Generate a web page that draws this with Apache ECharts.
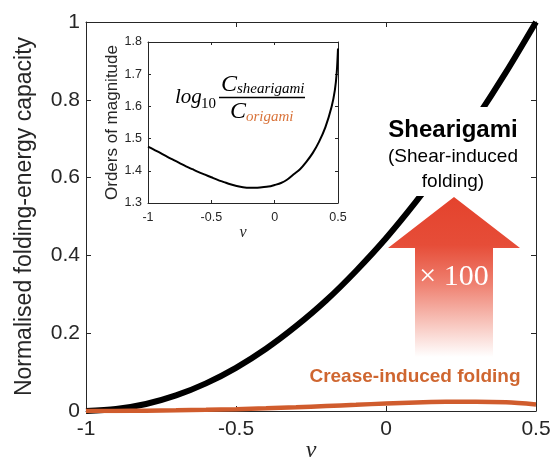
<!DOCTYPE html>
<html>
<head>
<meta charset="utf-8">
<script src="https://cdn.jsdelivr.net/npm/echarts@6/dist/echarts.min.js"></script>
<style>
  html, body { margin: 0; padding: 0; background: #fff; }
  #chart { width: 552px; height: 461px; }
</style>
</head>
<body>
<div id="chart"></div>
<script>
// poisson's ratio samples
const nu = [-1, -0.9, -0.8, -0.7, -0.6, -0.5, -0.4, -0.3, -0.2, -0.1, 0, 0.1, 0.2, 0.3, 0.4, 0.5]
// normalised folding-energy capacity
const shearigami = [0, 0.005, 0.018, 0.04, 0.071, 0.111, 0.16, 0.218, 0.284, 0.36, 0.444, 0.538, 0.64, 0.751, 0.871, 1.0]
const creaseFolding = [0, 0.0002, 0.0008, 0.0017, 0.003, 0.0046, 0.0069, 0.0097, 0.0128, 0.016, 0.0193, 0.022, 0.0237, 0.024, 0.0222, 0.0168]
// inset: log10 ratio
const insetNu = [-1, -0.95, -0.9, -0.85, -0.8, -0.75, -0.7, -0.65, -0.6, -0.55, -0.5, -0.45, -0.4, -0.35, -0.3, -0.25,
  -0.2, -0.15, -0.1, -0.05, 0, 0.05, 0.1, 0.15, 0.2, 0.25, 0.3, 0.35, 0.4, 0.45, 0.475, 0.49, 0.5]
const magnitude = [1.475, 1.465, 1.455, 1.444, 1.434, 1.424, 1.414, 1.405, 1.396, 1.388, 1.38, 1.372, 1.365, 1.358, 1.353, 1.349,
  1.347, 1.347, 1.349, 1.351, 1.356, 1.362, 1.373, 1.389, 1.405, 1.428, 1.455, 1.49, 1.535, 1.6, 1.65, 1.705, 1.78]

const mainXTicks = ['-1', '-0.5', '0', '0.5']
const mainYTicks = ['0', '0.2', '0.4', '0.6', '0.8', '1']
const insetXTicks = ['-1', '-0.5', '0', '0.5']
const insetYTicks = ['1.3', '1.4', '1.5', '1.6', '1.7', '1.8']

const pairs = (xs, ys) => xs.map((x, i) => [x, ys[i]])
const pick = (ticks, min, step) => v => ticks[Math.round((v - min) / step)] || ''

const axisColor = '#262626'
const sans = 'Liberation Sans'
const serif = 'Liberation Serif'

function boxAxis (type, gridIndex, pos, min, max, interval, ticks, fontSize, tickLen, extra) {
  return Object.assign({
    type: 'value',
    gridIndex: gridIndex,
    position: pos,
    min: min,
    max: max,
    interval: interval,
    axisLine: {show: true, onZero: false, lineStyle: {color: axisColor, width: 1}},
    axisTick: {show: true, inside: true, length: tickLen, lineStyle: {color: axisColor}},
    splitLine: {show: false},
    axisLabel: ticks
      ? {show: true, color: axisColor, fontFamily: sans, fontSize: fontSize, margin: type === 'x' ? 8 : 6,
        formatter: pick(ticks, min, interval)}
      : {show: false},
  }, extra || {})
}

const chart = echarts.init(document.getElementById('chart'))

const option = {
  animation: false,
  backgroundColor: '#fff',
  grid: [
    {left: 86, right: 16, top: 22, bottom: 50, outerBoundsMode: 'none', containLabel: false},
    {left: 148, right: 214, top: 42, bottom: 258, outerBoundsMode: 'none', containLabel: false},
  ],
  xAxis: [
    boxAxis('x', 0, 'bottom', -1, 0.5, 0.5, mainXTicks, 21, 5, {
      name: 'ν', nameLocation: 'middle', nameGap: 28, nameMoveOverlap: false,
      nameTextStyle: {fontFamily: serif, fontStyle: 'italic', fontSize: 24, color: axisColor},
    }),
    boxAxis('x', 0, 'top', -1, 0.5, 0.5, null, 21, 5),
    boxAxis('x', 1, 'bottom', -1, 0.5, 0.5, insetXTicks, 12.5, 3, {
      name: 'ν', nameLocation: 'middle', nameGap: 16,
      nameTextStyle: {fontFamily: serif, fontStyle: 'italic', fontSize: 16, color: axisColor},
    }),
    boxAxis('x', 1, 'top', -1, 0.5, 0.5, null, 12.5, 3),
  ],
  yAxis: [
    boxAxis('y', 0, 'left', 0, 1, 0.2, mainYTicks, 21, 5, {
      name: 'Normalised folding-energy capacity', nameLocation: 'middle', nameGap: 50,
      nameTextStyle: {fontFamily: sans, fontSize: 23, color: axisColor},
    }),
    boxAxis('y', 0, 'right', 0, 1, 0.2, null, 21, 5),
    boxAxis('y', 1, 'left', 1.3, 1.8, 0.1, insetYTicks, 12.5, 3, {
      name: 'Orders of magnitude', nameLocation: 'middle', nameGap: 24,
      nameTextStyle: {fontFamily: sans, fontSize: 17, color: axisColor},
    }),
    boxAxis('y', 1, 'right', 1.3, 1.8, 0.1, null, 12.5, 3),
  ],
  series: [
    {
      name: 'Shearigami',
      type: 'line',
      xAxisIndex: 0,
      yAxisIndex: 0,
      data: pairs(nu, shearigami),
      smooth: 0.3,
      showSymbol: false,
      lineStyle: {color: '#000', width: 6},
      z: 2,
    },
    {
      name: 'Crease-induced folding',
      type: 'line',
      xAxisIndex: 0,
      yAxisIndex: 0,
      data: pairs(nu, creaseFolding),
      smooth: 0.3,
      showSymbol: false,
      lineStyle: {color: '#d05c2d', width: 4.5},
      z: 3,
    },
    {
      name: 'ratio',
      type: 'line',
      xAxisIndex: 2,
      yAxisIndex: 2,
      data: pairs(insetNu, magnitude),
      smooth: 0.3,
      showSymbol: false,
      lineStyle: {color: '#000', width: 2},
      z: 2,
    },
  ],
  graphic: [
    // gap in the thick curve behind the label
    {type: 'rect', z: 50, shape: {x: 385, y: 107, width: 138, height: 89}, style: {fill: '#fff'}},
    {type: 'text', z: 60, x: 453, y: 130,
      style: {text: 'Shearigami', font: 'bold 24px "Liberation Sans"', fill: '#000', align: 'center', verticalAlign: 'middle'}},
    {type: 'text', z: 60, x: 453, y: 157,
      style: {text: '(Shear-induced', font: '19px "Liberation Sans"', fill: '#000', align: 'center', verticalAlign: 'middle'}},
    {type: 'text', z: 60, x: 453, y: 182,
      style: {text: 'folding)', font: '19px "Liberation Sans"', fill: '#000', align: 'center', verticalAlign: 'middle'}},
    {
      type: 'polygon', z: 60,
      shape: {points: [[454, 197], [388, 248], [415, 248], [415, 357], [493, 357], [493, 248], [520, 248]]},
      style: {
        fill: {
          type: 'linear', x: 0, y: 0, x2: 0, y2: 1,
          colorStops: [
            {offset: 0, color: '#e4432d'},
            {offset: 0.3, color: '#e64d38'},
            {offset: 0.55, color: '#ef8272'},
            {offset: 0.8, color: '#f8c8c0'},
            {offset: 1, color: '#ffffff'},
          ],
        },
      },
    },
    {type: 'text', z: 70, x: 454, y: 277,
      style: {text: '× 100', font: '30px "Liberation Serif"', fill: '#fff', align: 'center', verticalAlign: 'middle'}},
    {type: 'text', z: 60, x: 415, y: 377,
      style: {text: 'Crease-induced folding', font: 'bold 19px "Liberation Sans"', fill: '#cf6630', align: 'center', verticalAlign: 'middle'}},
    // inset formula
    {type: 'text', z: 60, x: 175, y: 97,
      style: {text: 'log', font: 'italic 21px "Liberation Serif"', fill: '#000', align: 'left', verticalAlign: 'middle'}},
    {type: 'text', z: 60, x: 201, y: 104,
      style: {text: '10', font: '15px "Liberation Serif"', fill: '#000', align: 'left', verticalAlign: 'middle'}},
    {type: 'line', z: 60, shape: {x1: 219, y1: 97.5, x2: 305, y2: 97.5}, style: {stroke: '#000', lineWidth: 1.3}},
    {type: 'text', z: 60, x: 221, y: 85,
      style: {text: 'C', font: 'italic 24px "Liberation Serif"', fill: '#000', align: 'left', verticalAlign: 'middle'}},
    {type: 'text', z: 60, x: 237, y: 89,
      style: {text: 'shearigami', font: 'italic 15px "Liberation Serif"', fill: '#000', align: 'left', verticalAlign: 'middle'}},
    {type: 'text', z: 60, x: 230, y: 112,
      style: {text: 'C', font: 'italic 24px "Liberation Serif"', fill: '#000', align: 'left', verticalAlign: 'middle'}},
    {type: 'text', z: 60, x: 246, y: 117,
      style: {text: 'origami', font: 'italic 15px "Liberation Serif"', fill: '#d9733a', align: 'left', verticalAlign: 'middle'}},
  ],
}

chart.setOption(option)
</script>
</body>
</html>
